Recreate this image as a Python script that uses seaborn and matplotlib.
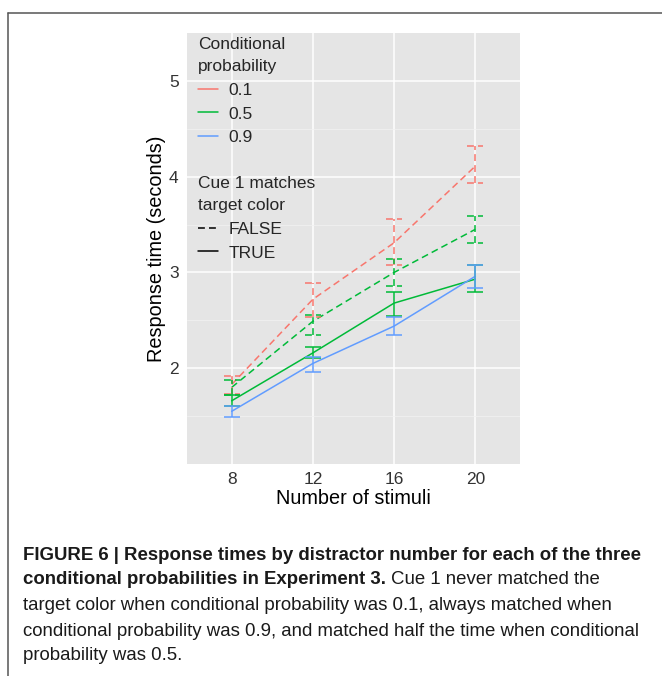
import matplotlib
matplotlib.use("Agg")
import matplotlib.pyplot as plt
from matplotlib.lines import Line2D
from matplotlib.ticker import FixedLocator
from matplotlib import font_manager
import numpy as np
import pandas as pd
import seaborn as sns

# values
stimuli = [8, 12, 16, 20]
cond_prob = ["0.1", "0.5", "0.5", "0.9"]
cue_match = ["FALSE", "FALSE", "TRUE", "TRUE"]
rt_mean = [[1.83, 2.72, 3.31, 4.11],
           [1.80, 2.49, 3.00, 3.45],
           [1.66, 2.16, 2.68, 2.93],
           [1.55, 2.05, 2.44, 2.96]]
rt_low = [[1.73, 2.54, 3.08, 3.93],
          [1.72, 2.35, 2.86, 3.31],
          [1.61, 2.11, 2.55, 2.80],
          [1.49, 1.96, 2.35, 2.84]]
rt_high = [[1.92, 2.89, 3.56, 4.32],
           [1.88, 2.56, 3.14, 3.59],
           [1.72, 2.22, 2.80, 3.08],
           [1.61, 2.12, 2.54, 3.08]]

prob_levels = ["0.1", "0.5", "0.9"]
match_levels = ["FALSE", "TRUE"]
palette = {"0.1": "#F8766D", "0.5": "#00BA38", "0.9": "#619CFF"}

caption_lines = [
    "FIGURE 6 | Response times by distractor number for each of the three",
    "conditional probabilities in Experiment 3.",
    "Cue 1 never matched the",
    "target color when conditional probability was 0.1, always matched when",
    "conditional probability was 0.9, and matched half the time when conditional",
    "probability was 0.5.",
]

rows = []
for i in range(len(cond_prob)):
    for j, n in enumerate(stimuli):
        rows.append({"stimuli": n, "prob": cond_prob[i], "match": cue_match[i],
                     "rt": rt_mean[i][j], "lo": rt_low[i][j], "hi": rt_high[i][j]})
df = pd.DataFrame(rows)

sns.set_theme(style="darkgrid")
plt.rcParams["font.family"] = ["Liberation Sans", "DejaVu Sans"]


def have_font(name):
    try:
        font_manager.findfont(name, fallback_to_default=False)
        return True
    except Exception:
        return False


cap_family = "Liberation Sans Narrow" if have_font("Liberation Sans Narrow") else "Liberation Sans"

fig = plt.figure(figsize=(6.62, 6.76), dpi=100)
ax = fig.add_axes([187 / 662, 1 - 464 / 676, 333 / 662, 431 / 676])
ax.set_facecolor("#E5E5E5")

dash_spec = (4.5, 2.7)
lw = 1.1
sns.lineplot(data=df, x="stimuli", y="rt", hue="prob", style="match",
             hue_order=prob_levels, style_order=match_levels, palette=palette,
             dashes={"FALSE": dash_spec, "TRUE": ""}, errorbar=None,
             legend=False, linewidth=lw, ax=ax)

cap_half = 0.4
for _, r in df.iterrows():
    ls = (0, dash_spec) if r["match"] == "FALSE" else "solid"
    col = palette[r["prob"]]
    ax.vlines(r["stimuli"], r["lo"], r["hi"], colors=col, linestyles=ls, linewidth=lw)
    ax.hlines([r["lo"], r["hi"]], r["stimuli"] - cap_half, r["stimuli"] + cap_half,
              colors=col, linestyles=ls, linewidth=lw)

ax.set_xlim(5.8, 22.2)
ax.set_ylim(1.0, 5.5)
ax.set_xticks(stimuli)
ax.set_yticks([2, 3, 4, 5])
ax.yaxis.set_minor_locator(FixedLocator([1.5, 2.5, 3.5, 4.5]))
ax.grid(which="major", color="white", linewidth=1.1)
ax.grid(which="minor", axis="y", color="#F2F2F2", linewidth=0.55)
ax.grid(which="minor", axis="x", visible=False)
for s in ax.spines.values():
    s.set_visible(False)
ax.tick_params(which="major", length=3, width=0.8, color="#7F7F7F",
               labelsize=12.5, labelcolor="#333333", pad=3)
ax.tick_params(which="minor", length=0)
ax.set_xlabel("Number of stimuli", fontsize=14.3, labelpad=1, color="black")
ax.set_ylabel("Response time (seconds)", fontsize=14.3, labelpad=2, color="black")

# legends
h_prob = [Line2D([], [], color=palette[p], lw=lw) for p in prob_levels]
h_match = [Line2D([], [], color="black", lw=lw, dashes=dash_spec),
           Line2D([], [], color="black", lw=lw)]
common = dict(frameon=False, fontsize=12.5, title_fontsize=12.5, loc="upper left",
              borderpad=0, borderaxespad=0, handlelength=1.15, handletextpad=0.62,
              labelspacing=0.49, alignment="left")
leg1 = ax.legend(h_prob, prob_levels, title="Conditional\nprobability",
                 bbox_to_anchor=((198 - 187) / 333, 1 - (37 - 33) / 431), **common)
leg1.get_title().set_linespacing(1.6)
ax.add_artist(leg1)
leg2 = ax.legend(h_match, match_levels, title="Cue 1 matches\ntarget color",
                 bbox_to_anchor=((198 - 187) / 333, 1 - (176 - 33) / 431), **common)
leg2.get_title().set_linespacing(1.6)

# frame around the figure panel
fig.add_artist(Line2D([8 / 662, 1], [1 - 12.7 / 676] * 2, transform=fig.transFigure,
                      color="#555555", lw=1.1))
fig.add_artist(Line2D([8 / 662] * 2, [0, 1 - 12.7 / 676], transform=fig.transFigure,
                      color="#555555", lw=1.1))

# caption, sized so the first line spans the same width as in the original
renderer = fig.canvas.get_renderer()
x0 = 23 / 662
ys = [556, 580, 606, 631, 655]
probe = fig.text(0, 0, caption_lines[0], family=[cap_family, "DejaVu Sans"],
                 fontsize=13, fontweight="bold")
cap_size = 13 * 618 / probe.get_window_extent(renderer).width
probe.remove()

cap_kw = dict(family=[cap_family, "DejaVu Sans"], fontsize=cap_size, va="center",
              ha="left", color="#1a1a1a")
fig.text(x0, 1 - ys[0] / 676, caption_lines[0], fontweight="bold", **cap_kw)
t_bold = fig.text(x0, 1 - ys[1] / 676, caption_lines[1], fontweight="bold", **cap_kw)
bb = t_bold.get_window_extent(renderer)
fig.text(bb.x1 / fig.bbox.width + 5 / 662, 1 - ys[1] / 676, caption_lines[2], **cap_kw)
for k in range(3, 6):
    fig.text(x0, 1 - ys[k - 1] / 676, caption_lines[k], **cap_kw)

fig.savefig("out.png", dpi=100)
